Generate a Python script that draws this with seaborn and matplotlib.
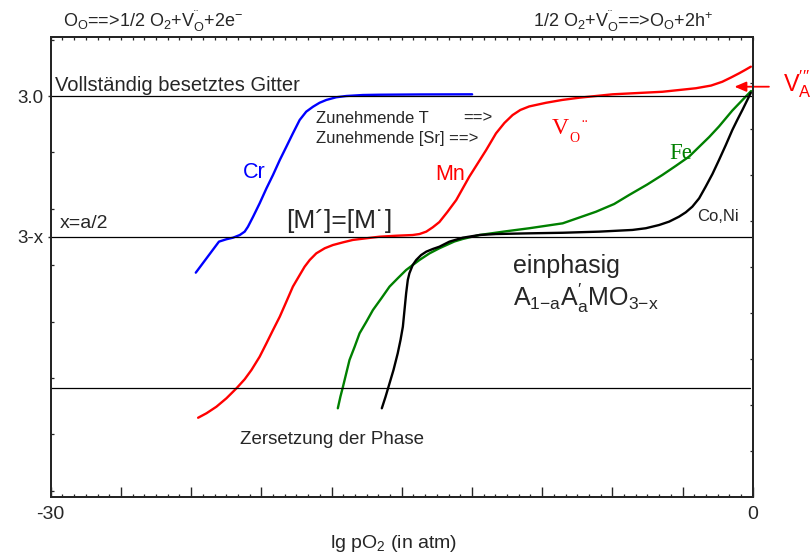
import matplotlib
matplotlib.use("Agg")
import matplotlib.pyplot as plt
import numpy as np
import pandas as pd
import seaborn as sns
from matplotlib.ticker import FixedLocator, MultipleLocator

# ---------------- data (x = lg pO2 [atm], y = oxygen content; 3.0 = full lattice, 2.0 = "3-x") ----
cr_x = [-23.80, -22.81, -22.49, -22.21, -21.92, -21.71, -21.57, -21.35, -21.07, -20.78,
        -20.50, -20.21, -19.93, -19.65, -19.36, -19.08, -18.79, -18.51, -18.22, -17.80,
        -17.37, -16.66, -15.95, -14.24, -11.99]
cr_y = [1.747, 1.967, 1.984, 1.995, 2.014, 2.038, 2.073, 2.144, 2.239, 2.345,
        2.440, 2.546, 2.640, 2.735, 2.830, 2.889, 2.924, 2.952, 2.972, 2.991,
        3.000, 3.007, 3.009, 3.011, 3.012]

mn_x = [-23.70, -23.34, -22.92, -22.49, -22.06, -21.71, -21.42, -21.07, -20.78, -20.50,
        -20.21, -19.93, -19.65, -19.36, -19.15, -18.93, -18.65, -18.29, -17.94, -17.51,
        -17.09, -16.51, -15.95, -15.23, -14.53, -14.24, -13.95, -13.67, -13.39, -13.05,
        -12.67, -12.11, -11.39, -10.97, -10.61, -10.26, -9.93, -9.55, -8.83, -8.14,
        -7.41, -5.99, -3.86, -2.43, -1.78, -1.30, -0.93, -0.58, -0.33, -0.08]
mn_y = [0.718, 0.750, 0.796, 0.856, 0.927, 0.991, 1.057, 1.151, 1.246, 1.340,
        1.435, 1.541, 1.648, 1.730, 1.789, 1.837, 1.884, 1.920, 1.943, 1.962,
        1.979, 1.991, 2.002, 2.009, 2.014, 2.021, 2.038, 2.069, 2.106, 2.177,
        2.262, 2.428, 2.617, 2.735, 2.809, 2.865, 2.901, 2.926, 2.952, 2.972,
        2.988, 3.012, 3.030, 3.055, 3.074, 3.101, 3.131, 3.161, 3.184, 3.208]

fe_x = [-17.73, -17.62, -17.51, -17.37, -17.23, -17.01, -16.80, -16.51, -16.23, -15.87,
        -15.52, -15.17, -14.81, -14.53, -14.24, -13.81, -13.39, -12.75, -12.39, -11.68,
        -10.61, -9.55, -8.12, -6.70, -5.92, -5.28, -4.51, -3.86, -3.29, -2.72,
        -1.86, -1.44, -0.87, -0.50, -0.07]
fe_y = [0.785, 0.867, 0.938, 1.033, 1.128, 1.222, 1.317, 1.399, 1.482, 1.565,
        1.648, 1.707, 1.766, 1.801, 1.837, 1.884, 1.920, 1.968, 1.986, 2.014,
        2.039, 2.062, 2.097, 2.179, 2.234, 2.298, 2.372, 2.440, 2.504, 2.570,
        2.709, 2.784, 2.897, 2.961, 3.035]

co_x = [-15.85, -15.69, -15.52, -15.35, -15.17, -15.05, -14.95, -14.88, -14.81, -14.74,
        -14.67, -14.53, -14.38, -14.17, -13.95, -13.67, -13.39, -12.96, -12.39, -11.68,
        -10.97, -9.55, -8.12, -6.56, -5.14, -4.57, -4.00, -3.57, -3.15, -2.86,
        -2.58, -2.29, -2.01, -1.72, -1.44, -1.15, -0.87, -0.66, -0.44, -0.23, -0.08]
co_y = [0.785, 0.867, 0.962, 1.057, 1.175, 1.270, 1.364, 1.482, 1.601, 1.695,
        1.743, 1.801, 1.837, 1.872, 1.896, 1.915, 1.931, 1.967, 1.995, 2.014,
        2.021, 2.026, 2.030, 2.038, 2.050, 2.062, 2.085, 2.109, 2.144, 2.175,
        2.215, 2.274, 2.357, 2.447, 2.546, 2.652, 2.759, 2.830, 2.901, 2.972, 3.023]

level_full = 3.0        # "Vollständig besetztes Gitter"
level_3mx = 2.0         # "3-x"
level_decomp = 0.929    # "Zersetzung der Phase"

ytick_vals = [3.0, 2.0]
ytick_labels = ["3.0", "3-x"]
xtick_vals = list(range(-30, 1, 3))
xtick_labels = ["-30"] + [""] * 9 + ["0"]

# ---------------- style ----------------
sns.set_style("white")
plt.rcParams["font.family"] = ["Liberation Sans", "DejaVu Sans"]
plt.rcParams["mathtext.fontset"] = "custom"
plt.rcParams["mathtext.rm"] = "Liberation Sans"
plt.rcParams["mathtext.it"] = "Liberation Sans:italic"
plt.rcParams["mathtext.bf"] = "Liberation Sans:bold"
plt.rcParams["lines.solid_joinstyle"] = "round"
plt.rcParams["lines.solid_capstyle"] = "round"

W, H = 811, 557
fig = plt.figure(figsize=(W / 100, H / 100), dpi=100)
L, R, T, B = 50.7, 752.7, 36.7, 496.7
ax = fig.add_axes([L / W, 1 - B / H, (R - L) / W, (B - T) / H])


def P(px, py):
    return (px / W, 1 - py / H)


frames = [
    ("Cr", cr_x, cr_y, "#0000ff"),
    ("Mn", mn_x, mn_y, "#ff0000"),
    ("Fe", fe_x, fe_y, "#008000"),
    ("Co,Ni", co_x, co_y, "#000000"),
]
for name, xs, ys, col in frames:
    df = pd.DataFrame({"lgpO2": xs, "O": ys})
    sns.lineplot(data=df, x="lgpO2", y="O", ax=ax, color=col, lw=1.7,
                 sort=False, estimator=None)

ax.axhline(level_full, color="black", lw=0.9)
ax.axhline(level_3mx, color="black", lw=0.9)
ax.plot([-30, -0.12], [level_decomp, level_decomp], color="black", lw=0.9)

ax.set_xlim(-30, 0)
ax.set_ylim(0.158, 3.4206)

# ticks
ax.set_xticks(xtick_vals)
ax.set_xticklabels(xtick_labels, fontsize=14)
ax.xaxis.set_minor_locator(MultipleLocator(0.5))
ax.tick_params(axis="x", which="major", direction="in", length=7, width=1.0, pad=7)
ax.tick_params(axis="x", which="minor", direction="in", length=2, width=0.9)

ax.set_yticks(ytick_vals)
ax.set_yticklabels(ytick_labels, fontsize=13.5)
ax.yaxis.set_minor_locator(FixedLocator(list(np.arange(0.2, 3.41, 0.4))))
ax.tick_params(axis="y", which="major", direction="out", length=2.5, width=1.0, pad=3)
ax.tick_params(axis="y", which="minor", direction="in", length=2, width=0.9)

ax.set_xlabel("lg pO$_\\mathrm{2}$ (in atm)", fontsize=14)
ax.set_ylabel("")
ax.xaxis.label.set_va("baseline")
ax.xaxis.set_label_coords((394 - L) / (R - L), -(548 - B) / (B - T))

for s in ax.spines.values():
    s.set_linewidth(1.4)
    s.set_color("black")

# right spine ticks
axr = ax.twinx()
axr.set_ylim(0, 10)
axr.set_yticks(range(1, 10))
axr.tick_params(axis="y", direction="in", length=2, width=0.9, labelright=False)
# top spine ticks
axt = ax.twiny()
axt.set_xlim(-30, 0)
axt.set_xticks(list(np.arange(-30, 0.01, 0.5)))
axt.tick_params(axis="x", direction="in", length=2, width=0.9, labeltop=False)
for a in (axr, axt):
    for s in a.spines.values():
        s.set_linewidth(1.4)

# ---------------- annotations ----------------
fig.text(*P(63, 27), "O$_\\mathrm{O}$==>1/2 O$_\\mathrm{2}$+V$_\\mathrm{O}^{\\mathrm{¨}}$+2e$^{\\mathrm{-}}$",
         fontsize=13, va="baseline", ha="left")
fig.text(*P(533, 27), "1/2 O$_\\mathrm{2}$+V$_\\mathrm{O}^{\\mathrm{¨}}$==>O$_\\mathrm{O}$+2h$^{\\mathrm{+}}$",
         fontsize=13, va="baseline", ha="left")
fig.text(*P(55, 91), "Vollständig besetztes Gitter", fontsize=14.5, va="baseline")
fig.text(*P(60, 228), "x=a/2", fontsize=14, va="baseline")
fig.text(*P(316, 122.7), "Zunehmende T", fontsize=12, va="baseline")
fig.text(*P(463, 122.7), "==>", fontsize=12, va="baseline")
fig.text(*P(316, 142.7), "Zunehmende [Sr] ==>", fontsize=12, va="baseline")
fig.text(*P(243, 178), "Cr", fontsize=15.5, color="#0000ff", va="baseline")
fig.text(*P(435, 180), "Mn", fontsize=15.5, color="#ff0000", va="baseline")
fig.text(*P(286, 228.3), "[M\u00b4]=[M\u02d9]", fontsize=19, va="baseline")
# V_O.. (serif, red)
fig.text(*P(551.7, 134), "V", fontsize=17, color="#ff0000", va="baseline", family="Liberation Serif")
fig.text(*P(569.5, 141.7), "O", fontsize=10, color="#ff0000", va="baseline", family="Liberation Serif")
fig.text(*P(582, 131), "\u00a8", fontsize=12, color="#ff0000", va="baseline", family="Liberation Serif")
fig.text(*P(669, 159), "Fe", fontsize=16.5, color="#008000", va="baseline", family="Liberation Serif")
fig.text(*P(697, 221), "Co,Ni", fontsize=12, va="baseline")
fig.text(*P(513, 273), "einphasig", fontsize=18, va="baseline")
fig.text(*P(513, 306), "A$_\\mathrm{1{-}a}$A$^{\\prime}_\\mathrm{a}$MO$_\\mathrm{3{-}x}$", fontsize=18, va="baseline")
fig.text(*P(240, 444), "Zersetzung der Phase", fontsize=13.5, va="baseline")
fig.text(*P(782.7, 91.7), "V$_\\mathrm{A}^{\\prime\\prime\\prime}$", fontsize=17, color="#ff0000", va="baseline")
ax.annotate("", xy=P(731.7, 86.7), xytext=P(771.7, 86.7), xycoords="figure fraction",
            textcoords="figure fraction", annotation_clip=False,
            arrowprops=dict(arrowstyle="-|>,head_length=0.7,head_width=0.3", color="#ff0000", lw=1.3))

fig.savefig("out.png", dpi=100)
